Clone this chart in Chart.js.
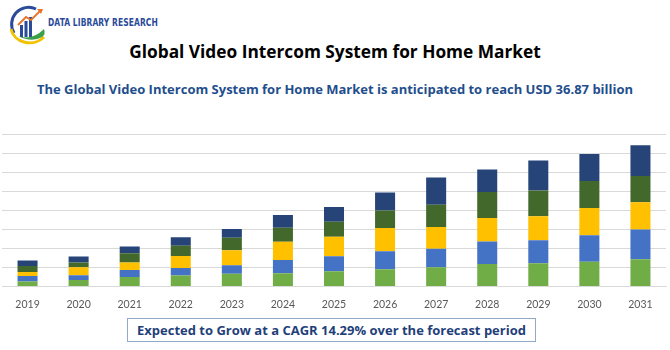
<!DOCTYPE html>
<html>
<head>
<meta charset="utf-8">
<script src="https://cdn.jsdelivr.net/npm/chart.js@4.4.1/dist/chart.umd.min.js"></script>
<style>
  html, body { margin: 0; padding: 0; background: #fff; }
  body { width: 670px; height: 350px; position: relative; overflow: hidden; font-family: "Open Sans", "Liberation Sans", sans-serif; }
  #logo { position: absolute; left: 6px; top: 3px; width: 44px; height: 44px; }
  #brand { position: absolute; left: 48px; top: 17px; font: bold 10px "Liberation Sans Narrow", "DejaVu Sans Condensed", sans-serif; color: #2a4a9a; letter-spacing: 0.1px; transform: scaleX(0.84); transform-origin: left center; white-space: nowrap; }
  #title { position: absolute; left: 0; width: 670px; top: 40px; text-align: center; font-weight: bold; font-size: 17.3px; color: #000; }
  #subtitle { position: absolute; left: 0; width: 670px; top: 80px; text-align: center; font-weight: bold; font-size: 13px; color: #1f4e8c; }
  #chartBox { position: absolute; left: 0; top: 120px; width: 670px; height: 195px; }
  #cagr { position: absolute; left: 127px; top: 318px; width: 407px; height: 22px; border: 1px solid #8fa9c6; text-align: center; line-height: 22px; font-weight: bold; font-size: 13px; color: #1f3f7a; white-space: nowrap; }
</style>
</head>
<body>
<svg id="logo" viewBox="0 0 44 44">
  <path d="M8 30 A17 17 0 0 1 30 6" fill="none" stroke="#2a4a9a" stroke-width="3"/>
  <path d="M5 26 A19 17 0 0 0 38 34" fill="none" stroke="#f2c200" stroke-width="3"/>
  <rect x="14" y="22" width="3" height="12" fill="#2a4a9a"/>
  <rect x="18.5" y="18" width="3" height="16" fill="#2a4a9a"/>
  <rect x="23" y="14" width="3" height="20" fill="#2a4a9a"/>
  <path d="M12 33 Q26 38 38 26 Q40 31 36 34 Q26 40 12 33" fill="#3aa04a"/>
  <path d="M12 22 L20 14 L25 17 L34 8" fill="none" stroke="#e8742a" stroke-width="1.8"/>
  <path d="M31 6 L37 6 L35 11 Z" fill="#e8742a"/>
</svg>
<div id="brand">DATA LIBRARY RESEARCH</div>
<div id="title">Global Video Intercom System for Home Market</div>
<div id="subtitle">The Global Video Intercom System for Home Market is anticipated to reach USD 36.87 billion</div>
<div id="chartBox"><canvas id="marketChart"></canvas></div>
<div id="cagr">Expected to Grow at a CAGR 14.29% over the forecast period</div>

<script>
// annees
const years = ['2019', '2020', '2021', '2022', '2023', '2024', '2025', '2026', '2027', '2028', '2029', '2030', '2031'];

// segments du bas vers le haut
const seriesA = [0.26, 0.33, 0.50, 0.57, 0.66, 0.69, 0.79, 0.90, 1.00, 1.17, 1.21, 1.30, 1.42];
const seriesB = [0.28, 0.26, 0.36, 0.40, 0.45, 0.69, 0.79, 0.95, 0.98, 1.19, 1.21, 1.38, 1.57];
const seriesC = [0.22, 0.41, 0.40, 0.62, 0.79, 0.97, 1.02, 1.21, 1.14, 1.23, 1.26, 1.43, 1.43];
const seriesD = [0.31, 0.26, 0.48, 0.54, 0.66, 0.73, 0.79, 0.92, 1.17, 1.36, 1.36, 1.42, 1.38];
const seriesE = [0.29, 0.31, 0.36, 0.45, 0.45, 0.67, 0.78, 0.95, 1.42, 1.19, 1.57, 1.42, 1.61];

const yTicks = [0, 1, 2, 3, 4, 5, 6, 7, 8];

function makeSet(label, data, color) {
    return {
        label: label,
        data: data,
        backgroundColor: color,
        borderWidth: 0
    };
}

const ctx = document.getElementById('marketChart').getContext('2d');
const marketChart = new Chart(ctx, {
    type: 'bar',
    data: {
        labels: years,
        datasets: [
            makeSet('A', seriesA, '#70ad47'),
            makeSet('B', seriesB, '#4472c4'),
            makeSet('C', seriesC, '#ffc000'),
            makeSet('D', seriesD, '#43682b'),
            makeSet('E', seriesE, '#264478')
        ]
    },
    options: {
        responsive: true,
        maintainAspectRatio: false,
        animation: false,
        layout: { padding: { top: 14, left: 2, right: 4, bottom: 0 } },
        datasets: { bar: { categoryPercentage: 0.8, barPercentage: 0.49 } },
        scales: {
            x: {
                stacked: true,
                grid: { display: false },
                border: { display: true, color: '#d9d9d9' },
                ticks: { color: '#595959', font: { family: 'Lato', size: 10.5 }, padding: 4 }
            },
            y: {
                stacked: true,
                min: yTicks[0],
                max: yTicks[yTicks.length - 1],
                afterBuildTicks: (axis) => { axis.ticks = yTicks.map(v => ({ value: v })); },
                ticks: { display: false },
                grid: { color: '#d9d9d9', drawTicks: false },
                border: { display: false }
            }
        },
        plugins: {
            legend: { display: false },
            tooltip: { enabled: false }
        }
    }
});
</script>
</body>
</html>
